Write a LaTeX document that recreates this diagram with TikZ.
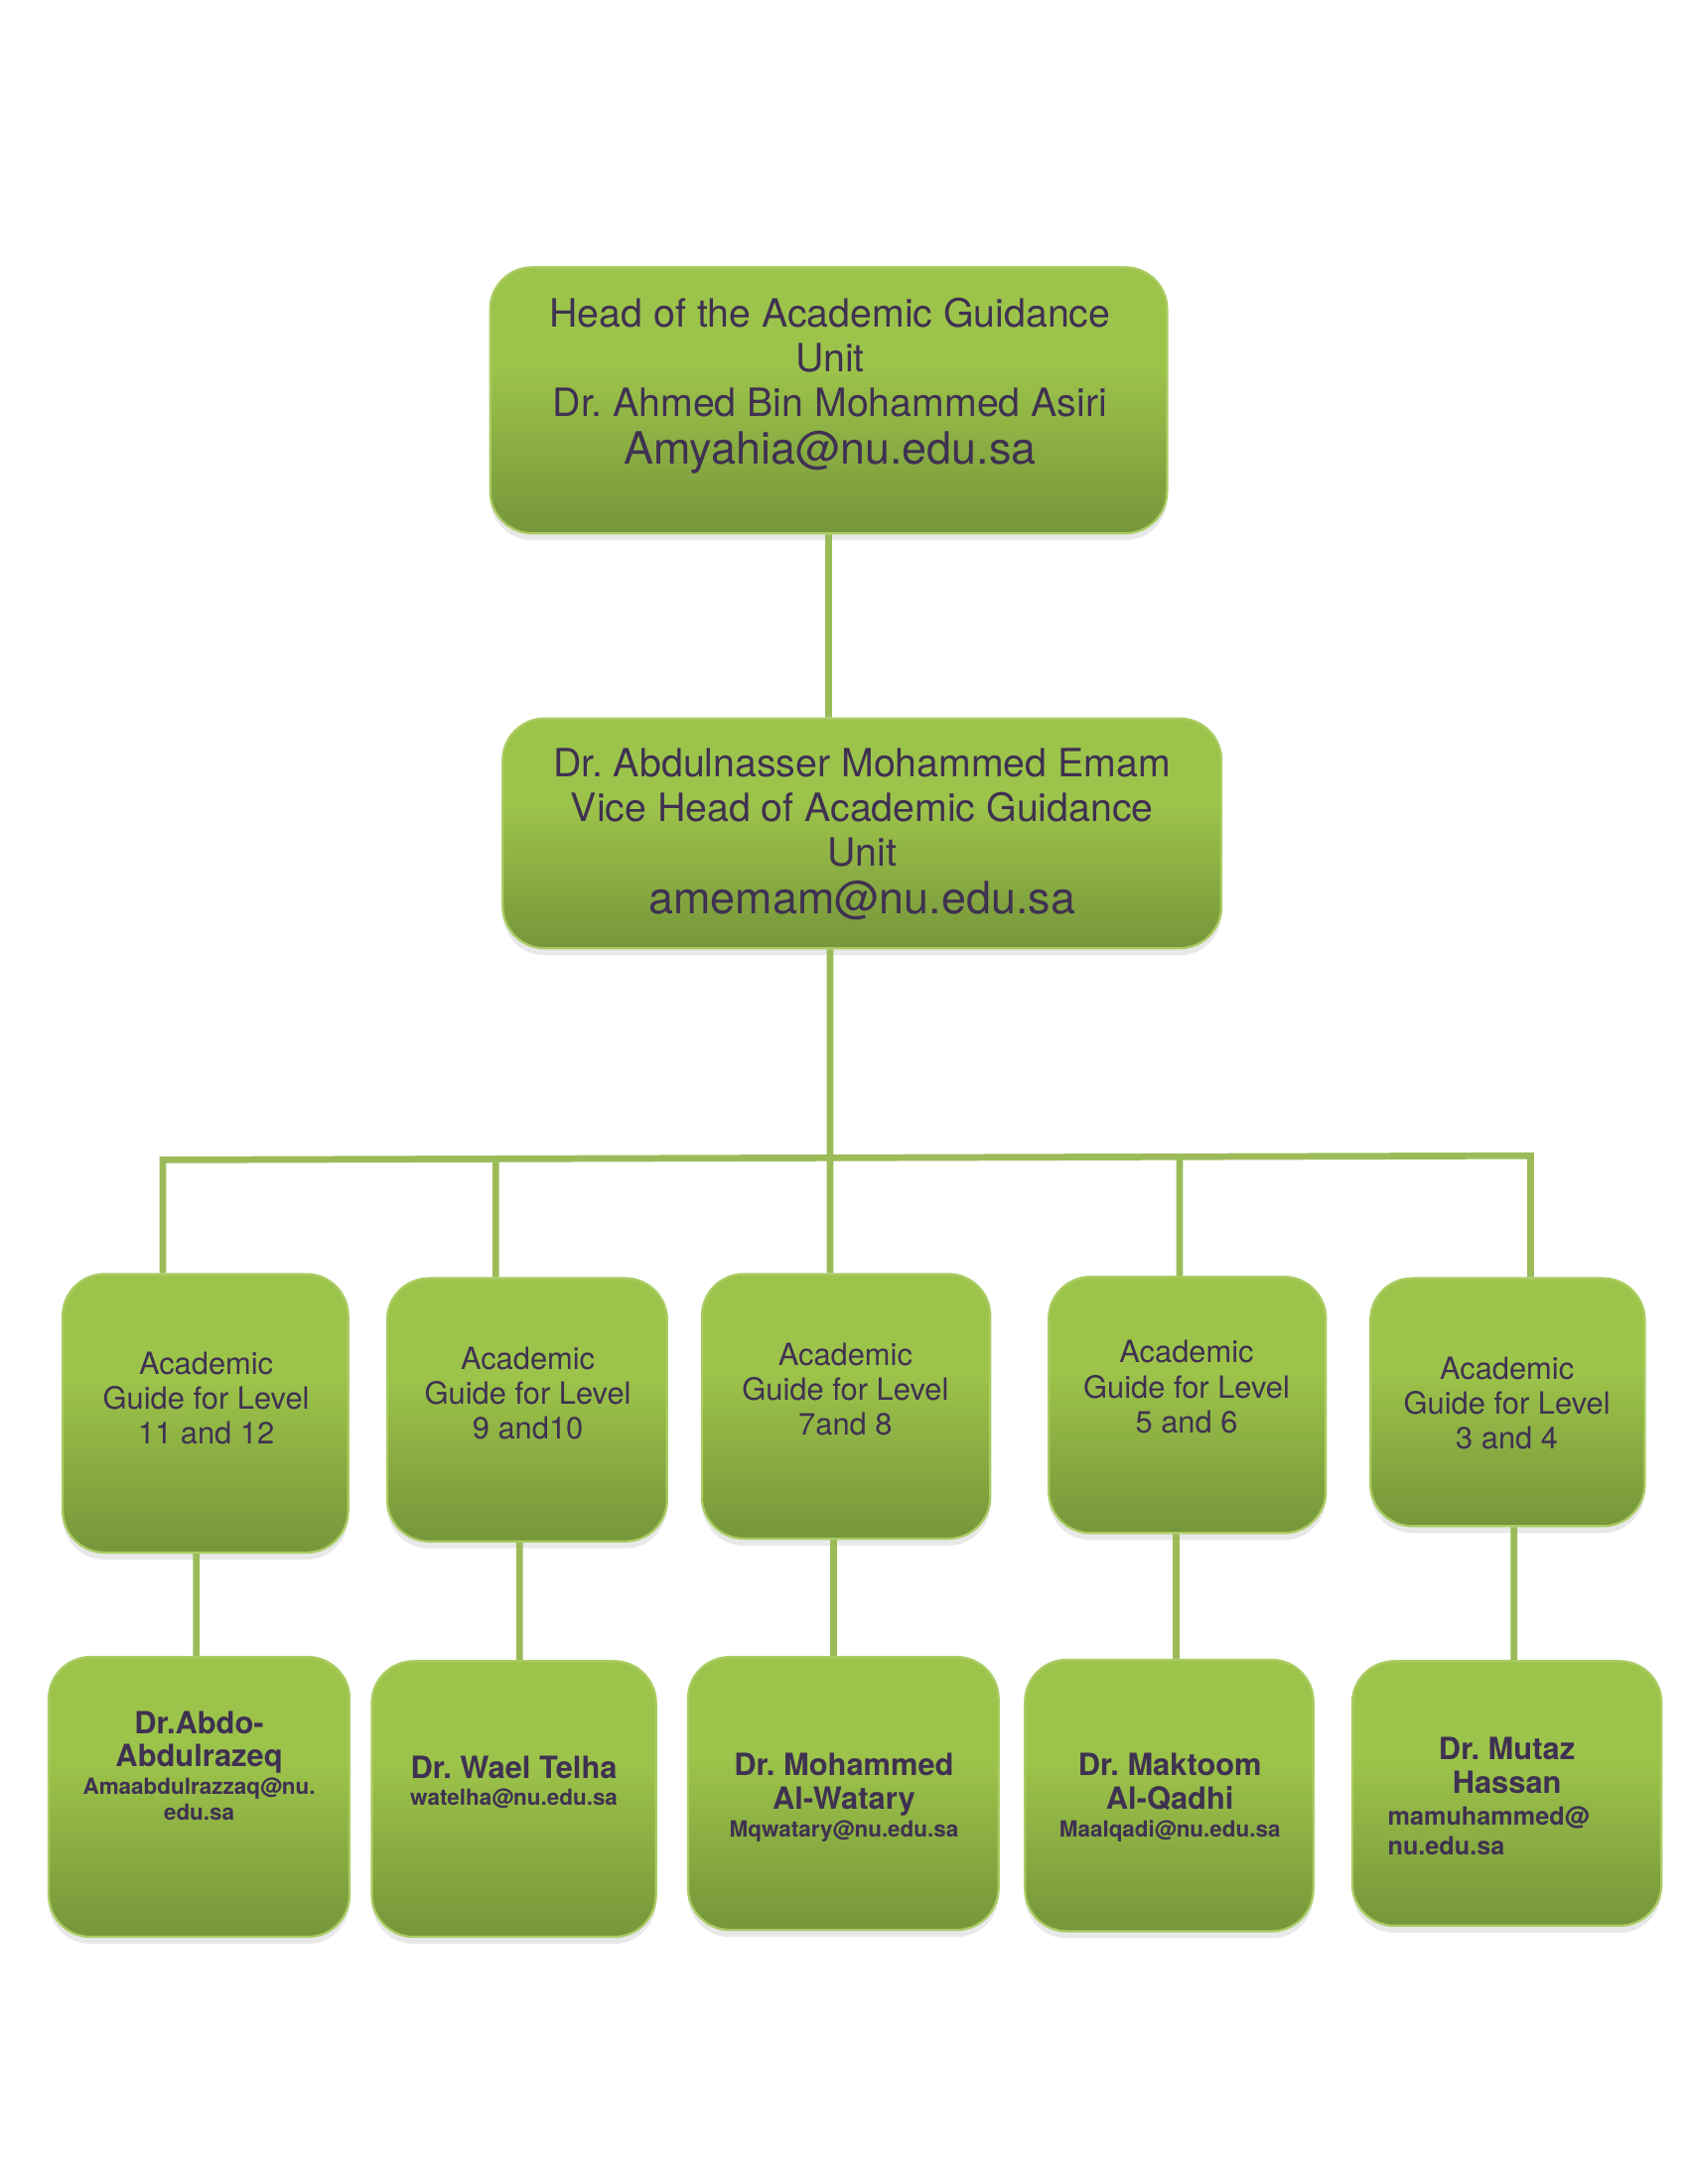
\documentclass[tikz,border=0pt]{standalone}
\usepackage{fontspec}
\setmainfont{TeX Gyre Heros}
\frenchspacing
\usetikzlibrary{shadows}

\definecolor{boxtop}{RGB}{157,196,74}
\definecolor{boxbot}{RGB}{118,150,58}
\definecolor{boxedge}{RGB}{170,204,100}
\definecolor{linkgreen}{RGB}{155,187,89}
\definecolor{inkpurple}{RGB}{63,49,81}
\pgfdeclareverticalshading{boxshade}{100bp}{color(0bp)=(boxbot); color(25bp)=(boxbot); color(57bp)=(boxtop); color(100bp)=(boxtop)}

\tikzset{
  orgbox/.style={rectangle, rounded corners=15pt, draw=boxedge, line width=0.8pt, shading=boxshade,
    drop shadow={opacity=0.18, shadow xshift=0pt, shadow yshift=-2.5pt}},
  boxtext/.style={text=inkpurple, align=center, inner sep=0pt},
  bigfont/.style={font=\fontsize{14}{16}\selectfont},
  levelfont/.style={font=\fontsize{11}{12.5}\selectfont},
  namefont/.style={font=\bfseries\fontsize{11}{12}\selectfont},
  link/.style={draw=linkgreen, line width=2.4pt},
}

\begin{document}
\begin{tikzpicture}[x=0.5pt,y=-0.5pt]
  \useasboundingbox (0,0) rectangle (1212,1568.5);
  \node[orgbox, minimum width=243pt, minimum height=95.5pt] (head) at (595,287.5) {};
  \node[orgbox, minimum width=258pt, minimum height=82.5pt] (vice) at (619,598.5) {};
  \node[orgbox, minimum width=102.5pt, minimum height=100pt] (g1) at (147.5,1015) {};
  \node[orgbox, minimum width=100.5pt, minimum height=94.5pt] (g2) at (378.5,1012.5) {};
  \node[orgbox, minimum width=103.5pt, minimum height=95pt] (g3) at (607.5,1010) {};
  \node[orgbox, minimum width=99.5pt, minimum height=92pt] (g4) at (852.5,1009) {};
  \node[orgbox, minimum width=98.5pt, minimum height=89pt] (g5) at (1082.5,1007) {};
  \node[orgbox, minimum width=108pt, minimum height=100.5pt] (d1) at (143,1290.5) {};
  \node[orgbox, minimum width=102pt, minimum height=99pt] (d2) at (369,1292) {};
  \node[orgbox, minimum width=111.5pt, minimum height=98pt] (d3) at (605.5,1288) {};
  \node[orgbox, minimum width=103.5pt, minimum height=97.5pt] (d4) at (839.5,1289.5) {};
  \node[orgbox, minimum width=111pt, minimum height=95pt] (d5) at (1082,1288) {};

  \node[boxtext, bigfont] (headtxt) at (596,277) {Head of the Academic Guidance\\Unit\\Dr. Ahmed Bin Mohammed Asiri\\[1pt]{\fontsize{16}{18}\selectfont Amyahia@nu.edu.sa}};
  \node[boxtext, bigfont] (vicetxt) at (619,599) {Dr. Abdulnasser Mohammed Emam\\Vice Head of Academic Guidance\\Unit\\[1pt]{\fontsize{16}{18}\selectfont amemam@nu.edu.sa}};
  \node[boxtext, levelfont] (g1txt) at (148,1004) {Academic\\Guide for Level\\11 and 12};
  \node[boxtext, levelfont] (g2txt) at (379,1000.5) {Academic\\Guide for Level\\9 and10};
  \node[boxtext, levelfont] (g3txt) at (607,998) {Academic\\Guide for Level\\7and 8};
  \node[boxtext, levelfont] (g4txt) at (852,996) {Academic\\Guide for Level\\5 and 6};
  \node[boxtext, levelfont] (g5txt) at (1082,1008) {Academic\\Guide for Level\\3 and 4};
  \node[boxtext, namefont] (d1txt) at (143,1268) {Dr.Abdo-\\Abdulrazeq\\[-2pt]{\fontsize{8}{9}\selectfont Amaabdulrazzaq@nu.}\\[-3pt]{\fontsize{8}{9}\selectfont edu.sa}};
  \node[boxtext, namefont] (d2txt) at (369,1280) {Dr. Wael Telha\\[-2.5pt]{\fontsize{8}{9}\selectfont watelha@nu.edu.sa}};
  \node[boxtext, namefont] (d3txt) at (606,1291) {Dr. Mohammed\\Al-Watary\\[-2pt]{\fontsize{8}{9}\selectfont Mqwatary@nu.edu.sa}};
  \node[boxtext, namefont] (d4txt) at (840,1291) {Dr. Maktoom\\Al-Qadhi\\[-2pt]{\fontsize{8}{9}\selectfont Maalqadi@nu.edu.sa}};
  \node[boxtext, namefont] (d5txt) at (1082,1268) {Dr. Mutaz\\Hassan};
  \node[boxtext, align=left, anchor=west, font=\bfseries\fontsize{9}{10.5}\selectfont] (d5mail) at (996,1315) {mamuhammed@\\nu.edu.sa};

  \coordinate (k1) at (117,833);
  \coordinate (k2) at (356,833);
  \coordinate (k3) at (596,832);
  \coordinate (k4) at (847,831);
  \coordinate (k5) at (1099,830);
  \path[link] (head.south) -- (head.south |- vice.north)
        (k3 |- vice.south) -- (k3)
        (k1 |- g1.north) -- (k1) -- (k5) -- (k5 |- g5.north)
        (k2) -- (k2 |- g2.north)
        (k3) -- (k3 |- g3.north)
        (k4) -- (k4 |- g4.north)
        ([xshift=-1pt]d1.north) -- ([xshift=-1pt]d1.north |- g1.south)
        ([xshift=2pt]d2.north) -- ([xshift=2pt]d2.north |- g2.south)
        ([xshift=-3.5pt]d3.north) -- ([xshift=-3.5pt]d3.north |- g3.south)
        ([xshift=2.5pt]d4.north) -- ([xshift=2.5pt]d4.north |- g4.south)
        ([xshift=2.5pt]d5.north) -- ([xshift=2.5pt]d5.north |- g5.south);
\end{tikzpicture}
\end{document}
